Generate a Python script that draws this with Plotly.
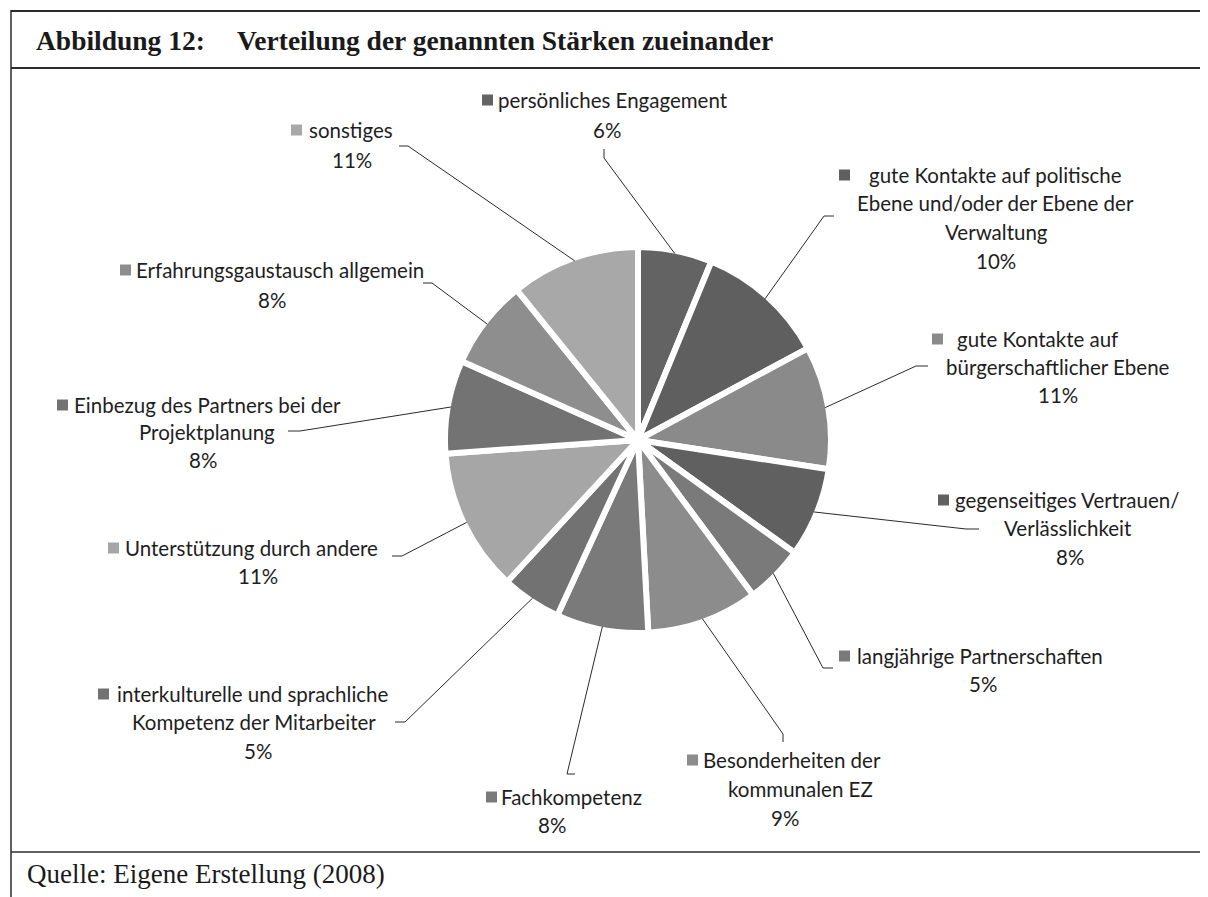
import math
import plotly.graph_objects as go

W, H = 1208, 897
OFF = 8  # page body margin of the html page

# ---- data ----
categories = [
    "persönliches Engagement",
    "gute Kontakte auf politische Ebene und/oder der Ebene der Verwaltung",
    "gute Kontakte auf bürgerschaftlicher Ebene",
    "gegenseitiges Vertrauen/ Verlässlichkeit",
    "langjährige Partnerschaften",
    "Besonderheiten der kommunalen EZ",
    "Fachkompetenz",
    "interkulturelle und sprachliche Kompetenz der Mitarbeiter",
    "Unterstützung durch andere",
    "Einbezug des Partners bei der Projektplanung",
    "Erfahrungsgaustausch allgemein",
    "sonstiges",
]
values = [6.2, 10.9, 10.3, 7.5, 4.9, 9.3, 7.7, 5.0, 12.0, 7.8, 7.5, 10.8]
pct_labels = ["6%", "10%", "11%", "8%", "5%", "9%", "8%", "5%", "11%", "8%", "8%", "11%"]
colors = ["#636363", "#5f5f5f", "#8a8a8a", "#606060", "#7a7a7a", "#8c8c8c",
          "#7a7a7a", "#727272", "#a6a6a6", "#737373", "#8e8e8e", "#a8a8a8"]

label_lines = [
    ["persönliches Engagement"],
    ["gute Kontakte auf politische", "Ebene und/oder der Ebene der", "Verwaltung"],
    ["gute Kontakte auf", "bürgerschaftlicher Ebene"],
    ["gegenseitiges Vertrauen/", "Verlässlichkeit"],
    ["langjährige Partnerschaften"],
    ["Besonderheiten der", "kommunalen EZ"],
    ["Fachkompetenz"],
    ["interkulturelle und sprachliche", "Kompetenz der Mitarbeiter"],
    ["Unterstützung durch andere"],
    ["Einbezug des Partners bei der", "Projektplanung"],
    ["Erfahrungsgaustausch allgemein"],
    ["sonstiges"],
]

# ---- layout (pixel positions in the target picture) ----
CX, CY, R_VIS, GAP = 638, 440, 190, 6
R = R_VIS + GAP / 2

line_pos = [
    [(613, 100), (607, 130)],
    [(995, 175), (995, 203), (996, 232), (996, 261)],
    [(1037, 339), (1058, 367), (1058, 395)],
    [(1067, 500), (1068, 528), (1070, 557)],
    [(980, 656), (983, 684)],
    [(792, 760), (800, 789), (785, 818)],
    [(571, 797), (552, 825)],
    [(253, 694), (254, 722), (258, 751)],
    [(251, 548), (258, 576)],
    [(207, 405), (207, 432), (203, 460)],
    [(280, 270), (272, 300)],
    [(351, 130), (352, 160)],
]
marker_x = [482, 839, 932, 938, 839, 687, 486, 98, 108, 57, 120, 291]
leader_pts = [
    [(604, 149), (604, 158)],
    [(834, 216), (824, 216)],
    [(928, 366), (916, 366)],
    [(979, 529), (966, 529)],
    [(833, 668), (823, 668)],
    [(783, 742), (783, 734)],
    [(575, 774), (567, 774)],
    [(395, 722), (405, 722)],
    [(392, 556), (402, 556)],
    [(288, 431), (300, 431)],
    [(423, 283), (432, 283)],
    [(399, 146), (408, 146)],
]


def px(x):
    return (x - OFF) / W


def py(y):
    return 1 - (y - OFF) / H


fig = go.Figure()
fig.add_trace(go.Pie(
    labels=categories,
    values=values,
    sort=False,
    direction="clockwise",
    rotation=0,
    marker=dict(colors=colors, line=dict(color="white", width=GAP)),
    textinfo="none",
    hoverinfo="label+percent",
    showlegend=False,
    domain=dict(x=[px(CX - R), px(CX + R)], y=[py(CY + R), py(CY - R)]),
))

shapes = []
annotations = []
LBL_FONT = dict(family="Lato, Carlito, 'Open Sans', sans-serif", size=20.5, color="#1e1e1e")

total = sum(values)
cum = 0.0
for i, v in enumerate(values):
    mid = (cum + v / 2) / total
    cum += v
    th = 2 * math.pi * mid
    ex, ey = CX + R_VIS * math.sin(th), CY - R_VIS * math.cos(th)
    (x1, y1), (x2, y2) = leader_pts[i]
    shapes.append(dict(
        type="path", xref="paper", yref="paper",
        path=f"M {px(x1)},{py(y1)} L {px(x2)},{py(y2)} L {px(ex)},{py(ey)}",
        line=dict(color="#2a2a2a", width=1),
    ))
    texts = label_lines[i] + [pct_labels[i]]
    for t, (lx, ly) in zip(texts, line_pos[i]):
        annotations.append(dict(
            x=px(lx), y=py(ly), xref="paper", yref="paper", text=t,
            showarrow=False, xanchor="center", yanchor="middle", font=LBL_FONT,
        ))
    my = line_pos[i][0][1]
    shapes.append(dict(
        type="rect", xref="paper", yref="paper",
        x0=px(marker_x[i]), x1=px(marker_x[i] + 11),
        y0=py(my - 5.5), y1=py(my + 5.5),
        fillcolor=colors[i], line=dict(width=0),
    ))

# frame lines
frame_col = "#2b2b2b"
shapes += [
    dict(type="line", xref="paper", yref="paper", x0=px(11), x1=1, y0=py(11), y1=py(11),
         line=dict(color=frame_col, width=2)),
    dict(type="line", xref="paper", yref="paper", x0=px(11), x1=1, y0=py(68), y1=py(68),
         line=dict(color=frame_col, width=2)),
    dict(type="line", xref="paper", yref="paper", x0=px(11), x1=px(11), y0=py(10), y1=0,
         line=dict(color=frame_col, width=1.5)),
    dict(type="line", xref="paper", yref="paper", x0=px(11), x1=1, y0=py(852), y1=py(852),
         line=dict(color=frame_col, width=1.5)),
]

SERIF = "'Liberation Serif', 'Times New Roman', serif"
annotations += [
    dict(x=px(34), y=py(40), xref="paper", yref="paper", text="<b>Abbildung 12:</b>",
         showarrow=False, xanchor="left", yanchor="middle",
         font=dict(family=SERIF, size=27.5, color="#1a1a1a")),
    dict(x=px(235), y=py(40), xref="paper", yref="paper",
         text="<b>Verteilung der genannten Stärken zueinander</b>",
         showarrow=False, xanchor="left", yanchor="middle",
         font=dict(family=SERIF, size=27.5, color="#1a1a1a")),
    dict(x=px(25), y=py(874), xref="paper", yref="paper",
         text="Quelle: Eigene Erstellung (2008)",
         showarrow=False, xanchor="left", yanchor="middle",
         font=dict(family=SERIF, size=27, color="#1a1a1a")),
]

fig.update_layout(
    width=W, height=H,
    margin=dict(l=0, r=0, t=0, b=0),
    paper_bgcolor="white", plot_bgcolor="white",
    shapes=shapes, annotations=annotations,
    showlegend=False,
)

fig.write_html("out.html")
